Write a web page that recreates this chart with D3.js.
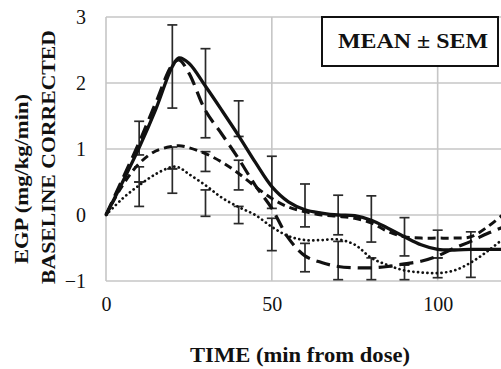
<!DOCTYPE html>
<html>
<head>
<meta charset="utf-8">
<script src="https://cdn.jsdelivr.net/npm/d3@7/dist/d3.min.js"></script>
<style>
html,body{margin:0;padding:0;background:#fff;}
svg{display:block;}
</style>
</head>
<body>
<svg id="chart" width="501" height="369"></svg>
<script>
// ---- data ----
const times = [0,5,10,15,20,22,25,30,35,40,45,50,55,60,65,70,75,80,85,90,95,100,105,110,115,120];
const solidSeries  = [0,0.5,1.02,1.6,2.25,2.38,2.3,1.95,1.58,1.2,0.8,0.43,0.2,0.08,0.03,0.0,-0.01,-0.08,-0.2,-0.33,-0.45,-0.52,-0.53,-0.52,-0.52,-0.52];
const heavyDashSeries = [0,0.55,1.1,1.7,2.28,2.35,2.15,1.58,1.22,0.85,0.45,0.1,-0.35,-0.62,-0.72,-0.78,-0.8,-0.8,-0.78,-0.74,-0.7,-0.62,-0.5,-0.4,-0.28,-0.18];
const medDashSeries = [0,0.45,0.78,0.97,1.04,1.05,1.02,0.93,0.8,0.63,0.43,0.25,0.12,0.05,0.0,-0.02,-0.05,-0.12,-0.25,-0.33,-0.35,-0.35,-0.35,-0.33,-0.18,0.02];
const dottedSeries = [0,0.25,0.45,0.62,0.73,0.72,0.62,0.45,0.26,0.12,0.0,-0.18,-0.32,-0.38,-0.38,-0.37,-0.45,-0.65,-0.76,-0.84,-0.87,-0.88,-0.84,-0.72,-0.55,-0.35];

// error bars (mean, sem) at sample times
const errSolidT = [10,20,30,40,50,60,70,80,90,100,110];
const errSolidMean = [1.165,2.25,1.845,1.46,0.495,0.145,0,-0.06,-0.33,-0.44,-0.6];
const errSolidSem  = [0.255,0.63,0.675,0.27,0.395,0.325,0.3,0.35,0.29,0.21,0.345];
const errMedT = [10,20,30,40];
const errMedMean = [0.615,0.865,0.81,0.605];
const errMedSem  = [0.115,0.165,0.15,0.225];
const errHeavyT = [60,70,80,90];
const errHeavyMean = [-0.645,-0.69,-0.815,-0.87];
const errHeavySem  = [0.215,0.29,0.165,0.11];
const errDotT = [10,20,30,40,50,100];
const errDotMean = [0.315,0.515,0.18,0,-0.295,-0.8];
const errDotSem  = [0.185,0.185,0.2,0.13,0.245,0.15];

const xTicks = [0,50,100];
const yTicks = [-1,0,1,2,3];
const legendText = "MEAN ± SEM";
const xTitle = "TIME (min from dose)";
const yTitle1 = "EGP (mg/kg/min)";
const yTitle2 = "BASELINE CORRECTED";

// ---- layout ----
const svg = d3.select("#chart");
const x = d3.scaleLinear().domain([0,120]).range([106,504]);
const y = d3.scaleLinear().domain([-1,3]).range([281,17]);
const serif = "'Liberation Serif','DejaVu Serif',serif";
const grid = "#c6c6c6";

// horizontal gridlines
svg.append("g").selectAll("line").data(yTicks).join("line")
  .attr("x1", x(0)).attr("x2", 501)
  .attr("y1", d=>y(d)).attr("y2", d=>y(d))
  .attr("stroke", grid).attr("stroke-width", 1.6);
// vertical gridlines
svg.append("g").selectAll("line").data(xTicks).join("line")
  .attr("x1", d=>x(d)).attr("x2", d=>x(d))
  .attr("y1", y(3)).attr("y2", y(-1))
  .attr("stroke", grid).attr("stroke-width", 1.6);

// axes labels via d3 axes
const yAxis = svg.append("g").attr("transform", `translate(${x(0)},0)`)
  .call(d3.axisLeft(y).tickValues(yTicks).tickSize(0).tickPadding(20).tickFormat(d3.format("d")));
yAxis.select(".domain").remove();
yAxis.selectAll("text").attr("font-family", serif).attr("font-size", 20).attr("fill","#111");

const xAxis = svg.append("g").attr("transform", `translate(0,${y(-1)})`)
  .call(d3.axisBottom(x).tickValues(xTicks).tickSize(0).tickPadding(16).tickFormat(d3.format("d")));
xAxis.select(".domain").remove();
xAxis.selectAll("text").attr("font-family", serif).attr("font-size", 20).attr("fill","#111");

// curves
const line = d3.line().x((d,i)=>x(times[i])).y(d=>y(d)).curve(d3.curveCatmullRom.alpha(0.5));
svg.append("clipPath").attr("id","clip").append("rect")
  .attr("x", x(0)-3).attr("y", 0).attr("width", 501).attr("height", y(-1)+3);
const plot = svg.append("g").attr("clip-path","url(#clip)");

// error bars
function drawErr(ts, ms, ss){
  const g = plot.append("g").attr("stroke","#2a2a2a").attr("stroke-width",1.7).attr("fill","none");
  ts.forEach((t,i)=>{
    const cx = x(t), top = y(ms[i]+ss[i]), bot = y(ms[i]-ss[i]);
    g.append("line").attr("x1",cx).attr("x2",cx).attr("y1",top).attr("y2",bot);
    g.append("line").attr("x1",cx-5).attr("x2",cx+5).attr("y1",top).attr("y2",top);
    g.append("line").attr("x1",cx-5).attr("x2",cx+5).attr("y1",bot).attr("y2",bot);
  });
}
drawErr(errSolidT, errSolidMean, errSolidSem);
drawErr(errMedT, errMedMean, errMedSem);
drawErr(errHeavyT, errHeavyMean, errHeavySem);
drawErr(errDotT, errDotMean, errDotSem);

plot.append("path").attr("d", line(dottedSeries)).attr("fill","none")
  .attr("stroke","#111").attr("stroke-width",2.7).attr("stroke-dasharray","0.1 4.6").attr("stroke-linecap","round");
plot.append("path").attr("d", line(medDashSeries)).attr("fill","none")
  .attr("stroke","#111").attr("stroke-width",3).attr("stroke-dasharray","8 5");
plot.append("path").attr("d", line(heavyDashSeries)).attr("fill","none")
  .attr("stroke","#111").attr("stroke-width",3.2).attr("stroke-dasharray","14 7");
plot.append("path").attr("d", line(solidSeries)).attr("fill","none")
  .attr("stroke","#111").attr("stroke-width",3.3);

// legend box
svg.append("rect").attr("x",322).attr("y",17).attr("width",176).attr("height",49)
  .attr("fill","#fff").attr("stroke","#111").attr("stroke-width",2);
svg.append("text").attr("x",413).attr("y",48).attr("text-anchor","middle")
  .attr("font-family",serif).attr("font-weight","bold").attr("font-size",22).attr("fill","#111")
  .attr("textLength",150).attr("lengthAdjust","spacingAndGlyphs")
  .text(legendText);

// titles
svg.append("text").attr("x",300).attr("y",362).attr("text-anchor","middle")
  .attr("font-family",serif).attr("font-weight","bold").attr("font-size",21).attr("fill","#111")
  .attr("textLength",220).attr("lengthAdjust","spacingAndGlyphs")
  .text(xTitle);
svg.append("text").attr("transform","translate(28,179) rotate(-90)").attr("text-anchor","middle")
  .attr("font-family",serif).attr("font-weight","bold").attr("font-size",19).attr("fill","#111")
  .attr("textLength",170).attr("lengthAdjust","spacingAndGlyphs")
  .text(yTitle1);
svg.append("text").attr("transform","translate(55,157) rotate(-90)").attr("text-anchor","middle")
  .attr("font-family",serif).attr("font-weight","bold").attr("font-size",19).attr("fill","#111")
  .attr("textLength",254).attr("lengthAdjust","spacingAndGlyphs")
  .text(yTitle2);
</script>
</body>
</html>
